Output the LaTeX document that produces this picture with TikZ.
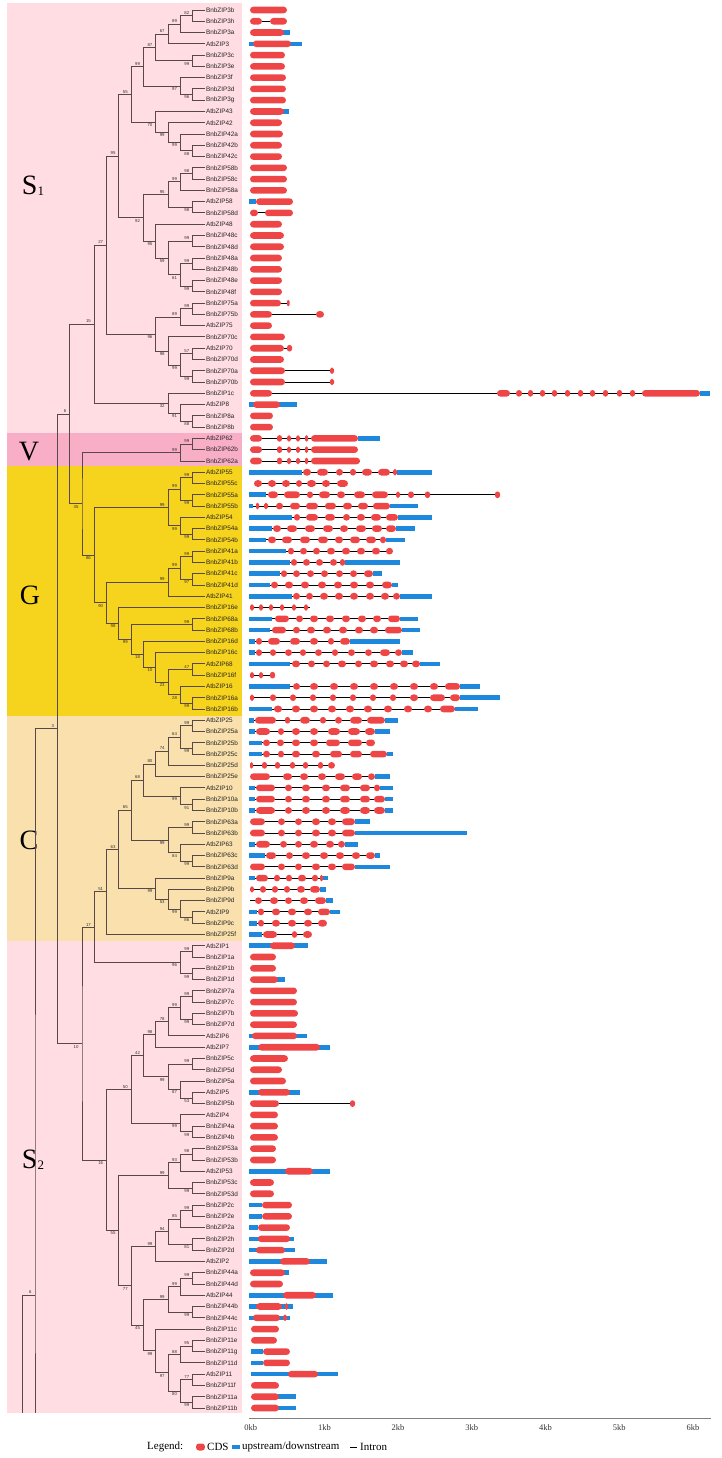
\documentclass[tikz,border=0pt]{standalone}
\usepackage{fontspec}
\setmainfont{Liberation Serif}
\setsansfont{Liberation Sans}
\usetikzlibrary{calc}
\definecolor{branch-draw}{RGB}{88,72,72}
\definecolor{cdsR}{HTML}{EE4646}
\definecolor{utrB}{HTML}{1E88DC}
\definecolor{secS}{HTML}{FFDDE2}
\definecolor{secV}{HTML}{F9AEC8}
\definecolor{secG}{HTML}{F6D31C}
\definecolor{secC}{HTML}{F9E0AC}
% half heights and corner radii of the gene pieces (c=CDS, u=UTR, i=intron)
\def\hc{3.3}\def\hu{2.3}\def\hi{0.45}
\def\rc{3.3}\def\ru{0}\def\ri{0}
% \clade{name}{height}{upper child}{lower child}{bootstrap}{bup|bdn}
\newcommand\clade[6]{%
  \path let \p1=($(#3)!.5!(#4)$) in coordinate (#1) at ({205-12.3*#2},\y1);
  \draw[branch] (#3) -| (#1) |- (#4);
  \node[boot,#6] (bs-#1) at (#1) {#5};}

\begin{document}
\begin{tikzpicture}[x=1pt,y=-1pt,
 branch/.style={branch-draw, line width=0.9pt},
 boot/.style={font=\sffamily\fontsize{4.3}{4.3}\selectfont, text=black!80, inner sep=0.3pt},
 bup/.style={anchor=south east, xshift=-3pt, yshift=0.8pt},
 bdn/.style={anchor=north east, xshift=-3pt, yshift=-0.8pt},
 leaf/.style={font=\sffamily\fontsize{6.4}{7}\selectfont, text=black!85, anchor=west, inner sep=0.8pt},
 region/.style={font=\fontsize{28}{28}\selectfont, text=black},
 segc/.style={fill=cdsR},
 segu/.style={fill=utrB},
 segi/.style={fill=black},
 axislbl/.style={font=\fontsize{8.5}{9}\selectfont, text=black!80},
 lgd/.style={font=\fontsize{11}{12}\selectfont, anchor=west, inner sep=0pt},
]
 \useasboundingbox (0,0) rectangle (722,1458);
 % subfamily bands
 \fill[secS] (7,3) rectangle (242,433);
 \fill[secV] (7,433) rectangle (242,466);
 \fill[secG] (7,466) rectangle (242,715.5);
 \fill[secC] (7,715.5) rectangle (242,940.5);
 \fill[secS] (7,940.5) rectangle (242,1412.5);
 \node[region] (reg-S1) at (33,186) {S\raisebox{-1pt}{\fontsize{13}{13}\selectfont 1}};
 \node[region] (reg-V) at (29,452) {V};
 \node[region] (reg-G) at (30,595) {G};
 \node[region] (reg-C) at (29,840) {C};
 \node[region] (reg-S2) at (33,1160) {S\raisebox{-1pt}{\fontsize{13}{13}\selectfont 2}};
 % leaves, top to bottom
 \foreach \nm [count=\i] in {BnbZIP3b,BnbZIP3h,BnbZIP3a,AtbZIP3,BnbZIP3c,BnbZIP3e,BnbZIP3f,BnbZIP3d,BnbZIP3g,
   AtbZIP43,AtbZIP42,BnbZIP42a,BnbZIP42b,BnbZIP42c,BnbZIP58b,BnbZIP58c,BnbZIP58a,AtbZIP58,BnbZIP58d,
   AtbZIP48,BnbZIP48c,BnbZIP48d,BnbZIP48a,BnbZIP48b,BnbZIP48e,BnbZIP48f,BnbZIP75a,BnbZIP75b,AtbZIP75,
   BnbZIP70c,AtbZIP70,BnbZIP70d,BnbZIP70a,BnbZIP70b,BnbZIP1c,AtbZIP8,BnbZIP8a,BnbZIP8b,
   AtbZIP62,BnbZIP62b,BnbZIP62a,
   AtbZIP55,BnbZIP55c,BnbZIP55a,BnbZIP55b,AtbZIP54,BnbZIP54a,BnbZIP54b,BnbZIP41a,BnbZIP41b,BnbZIP41c,
   BnbZIP41d,AtbZIP41,BnbZIP16e,BnbZIP68a,BnbZIP68b,BnbZIP16d,BnbZIP16c,AtbZIP68,BnbZIP16f,AtbZIP16,
   BnbZIP16a,BnbZIP16b,
   AtbZIP25,BnbZIP25a,BnbZIP25b,BnbZIP25c,BnbZIP25d,BnbZIP25e,AtbZIP10,BnbZIP10a,BnbZIP10b,BnbZIP63a,
   BnbZIP63b,AtbZIP63,BnbZIP63c,BnbZIP63d,BnbZIP9a,BnbZIP9b,BnbZIP9d,AtbZIP9,BnbZIP9c,BnbZIP25f,
   AtbZIP1,BnbZIP1a,BnbZIP1b,BnbZIP1d,BnbZIP7a,BnbZIP7c,BnbZIP7b,BnbZIP7d,AtbZIP6,AtbZIP7,BnbZIP5c,
   BnbZIP5d,BnbZIP5a,AtbZIP5,BnbZIP5b,AtbZIP4,BnbZIP4a,BnbZIP4b,BnbZIP53a,BnbZIP53b,AtbZIP53,BnbZIP53c,
   BnbZIP53d,BnbZIP2c,BnbZIP2e,BnbZIP2a,BnbZIP2h,BnbZIP2d,AtbZIP2,BnbZIP44a,BnbZIP44d,AtbZIP44,
   BnbZIP44b,BnbZIP44c,BnbZIP11c,BnbZIP11e,BnbZIP11g,BnbZIP11d,AtbZIP11,BnbZIP11f,BnbZIP11a,BnbZIP11b}{
   \coordinate (\nm) at (205,{10+11.274*(\i-1)});
   \node[leaf] (lab\i) at (\nm) {\nm};}
 % S1
 \clade{a1}{1}{BnbZIP3b}{BnbZIP3h}{82}{bup}
 \clade{a2}{2}{a1}{BnbZIP3a}{89}{bup}
 \clade{a3}{3}{a2}{AtbZIP3}{67}{bup}
 \clade{a4}{1}{BnbZIP3c}{BnbZIP3e}{99}{bdn}
 \clade{a5}{4}{a3}{a4}{87}{bup}
 \clade{a6}{1}{BnbZIP3d}{BnbZIP3g}{96}{bdn}
 \clade{a7}{2}{BnbZIP3f}{a6}{97}{bdn}
 \clade{a8}{5}{a5}{a7}{99}{bup}
 \clade{b1}{1}{BnbZIP42b}{BnbZIP42c}{88}{bdn}
 \clade{b2}{2}{BnbZIP42a}{b1}{99}{bdn}
 \clade{b3}{3}{AtbZIP42}{b2}{99}{bdn}
 \clade{b4}{4}{AtbZIP43}{b3}{70}{bdn}
 \clade{a9}{6}{a8}{b4}{55}{bup}
 \clade{c1}{1}{BnbZIP58b}{BnbZIP58c}{98}{bup}
 \clade{c2}{2}{c1}{BnbZIP58a}{99}{bup}
 \clade{c3}{1}{AtbZIP58}{BnbZIP58d}{98}{bdn}
 \clade{c4}{3}{c2}{c3}{95}{bup}
 \clade{d1}{1}{BnbZIP48c}{BnbZIP48d}{99}{bup}
 \clade{d2}{1}{BnbZIP48a}{BnbZIP48b}{99}{bup}
 \clade{d3}{1}{BnbZIP48e}{BnbZIP48f}{99}{bdn}
 \clade{d4}{2}{d2}{d3}{61}{bdn}
 \clade{d5}{3}{d1}{d4}{59}{bdn}
 \clade{d6}{4}{AtbZIP48}{d5}{95}{bdn}
 \clade{e1}{5}{c4}{d6}{92}{bdn}
 \clade{f1}{7}{a9}{e1}{95}{bup}
 \clade{g1}{1}{BnbZIP75a}{BnbZIP75b}{99}{bup}
 \clade{g2}{2}{g1}{AtbZIP75}{89}{bup}
 \clade{h1}{1}{AtbZIP70}{BnbZIP70d}{57}{bup}
 \clade{h2}{1}{BnbZIP70a}{BnbZIP70b}{99}{bdn}
 \clade{h3}{2}{h1}{h2}{99}{bdn}
 \clade{h4}{3}{BnbZIP70c}{h3}{98}{bdn}
 \clade{g3}{4}{g2}{h4}{96}{bdn}
 \clade{i1}{8}{f1}{g3}{27}{bup}
 \clade{j1}{1}{BnbZIP8a}{BnbZIP8b}{88}{bdn}
 \clade{j2}{2}{AtbZIP8}{j1}{91}{bdn}
 \clade{j3}{3}{BnbZIP1c}{j2}{32}{bdn}
 \clade{k1}{9}{i1}{j3}{15}{bup}
 % V and G
 \clade{v1}{1}{AtbZIP62}{BnbZIP62b}{99}{bup}
 \clade{v2}{2}{v1}{BnbZIP62a}{99}{bup}
 \clade{n1}{1}{AtbZIP55}{BnbZIP55c}{99}{bup}
 \clade{n2}{1}{BnbZIP55a}{BnbZIP55b}{99}{bdn}
 \clade{n3}{2}{n1}{n2}{99}{bup}
 \clade{n5}{1}{BnbZIP54a}{BnbZIP54b}{99}{bdn}
 \clade{n4}{2}{AtbZIP54}{n5}{99}{bdn}
 \clade{n6}{3}{n3}{n4}{99}{bup}
 \clade{p1}{1}{BnbZIP41a}{BnbZIP41b}{99}{bup}
 \clade{p2}{1}{BnbZIP41c}{BnbZIP41d}{97}{bdn}
 \clade{p3}{2}{p1}{p2}{99}{bup}
 \clade{p4}{3}{p3}{AtbZIP41}{99}{bup}
 \clade{q1}{1}{BnbZIP68a}{BnbZIP68b}{99}{bup}
 \clade{r1}{1}{AtbZIP68}{BnbZIP16f}{47}{bup}
 \clade{r2}{1}{BnbZIP16a}{BnbZIP16b}{99}{bdn}
 \clade{r3}{2}{AtbZIP16}{r2}{28}{bdn}
 \clade{r4}{3}{r1}{r3}{23}{bdn}
 \clade{r5}{4}{BnbZIP16c}{r4}{10}{bdn}
 \clade{r6}{5}{BnbZIP16d}{r5}{18}{bdn}
 \clade{r7}{6}{q1}{r6}{99}{bdn}
 \clade{r8}{7}{BnbZIP16e}{r7}{98}{bdn}
 \clade{s1}{8}{p4}{r8}{90}{bdn}
 \clade{s2}{9}{n6}{s1}{86}{bdn}
 \clade{vg}{10}{v2}{s2}{35}{bdn}
 \clade{top}{11}{k1}{vg}{6}{bup}
 % C
 \clade{t1}{1}{AtbZIP25}{BnbZIP25a}{99}{bup}
 \clade{t2}{1}{BnbZIP25b}{BnbZIP25c}{99}{bdn}
 \clade{t3}{2}{t1}{t2}{64}{bup}
 \clade{t4}{3}{t3}{BnbZIP25d}{74}{bup}
 \clade{t5}{4}{t4}{BnbZIP25e}{80}{bup}
 \clade{u1}{1}{BnbZIP10a}{BnbZIP10b}{91}{bdn}
 \clade{u2}{2}{AtbZIP10}{u1}{99}{bdn}
 \clade{t6}{5}{t5}{u2}{68}{bup}
 \clade{w1}{1}{BnbZIP63a}{BnbZIP63b}{99}{bup}
 \clade{w2}{1}{BnbZIP63c}{BnbZIP63d}{99}{bdn}
 \clade{w3}{2}{AtbZIP63}{w2}{84}{bdn}
 \clade{w4}{3}{w1}{w3}{99}{bdn}
 \clade{x1}{6}{t6}{w4}{65}{bup}
 \clade{y1}{1}{AtbZIP9}{BnbZIP9c}{86}{bdn}
 \clade{y2}{2}{BnbZIP9d}{y1}{99}{bdn}
 \clade{y3}{3}{BnbZIP9b}{y2}{53}{bdn}
 \clade{y4}{4}{BnbZIP9a}{y3}{99}{bdn}
 \clade{x2}{7}{x1}{y4}{63}{bup}
 \clade{cg}{8}{x2}{BnbZIP25f}{51}{bup}
 % S2
 \clade{o1}{1}{AtbZIP1}{BnbZIP1a}{99}{bup}
 \clade{o2}{1}{BnbZIP1b}{BnbZIP1d}{99}{bdn}
 \clade{o3}{2}{o1}{o2}{96}{bdn}
 \clade{cs}{9}{cg}{o3}{17}{bup}
 \clade{z1}{1}{BnbZIP7a}{BnbZIP7c}{99}{bup}
 \clade{z2}{1}{BnbZIP7b}{BnbZIP7d}{99}{bdn}
 \clade{z3}{2}{z1}{z2}{99}{bup}
 \clade{z4}{3}{z3}{AtbZIP6}{78}{bup}
 \clade{z5}{4}{z4}{AtbZIP7}{98}{bup}
 \clade{m1}{1}{BnbZIP5c}{BnbZIP5d}{99}{bup}
 \clade{m2}{1}{AtbZIP5}{BnbZIP5b}{53}{bdn}
 \clade{m3}{2}{BnbZIP5a}{m2}{87}{bdn}
 \clade{m4}{3}{m1}{m3}{99}{bdn}
 \clade{z6}{5}{z5}{m4}{42}{bup}
 \clade{f4a}{1}{BnbZIP4a}{BnbZIP4b}{99}{bdn}
 \clade{f4b}{2}{AtbZIP4}{f4a}{99}{bdn}
 \clade{z7}{6}{z6}{f4b}{50}{bup}
 \clade{k53a}{1}{BnbZIP53a}{BnbZIP53b}{98}{bup}
 \clade{k53b}{2}{k53a}{AtbZIP53}{93}{bup}
 \clade{k53c}{1}{BnbZIP53c}{BnbZIP53d}{99}{bdn}
 \clade{k53d}{3}{k53b}{k53c}{99}{bup}
 \clade{l1}{1}{BnbZIP2c}{BnbZIP2e}{99}{bup}
 \clade{l2}{2}{l1}{BnbZIP2a}{85}{bup}
 \clade{l3}{1}{BnbZIP2h}{BnbZIP2d}{81}{bdn}
 \clade{l4}{3}{l2}{l3}{94}{bup}
 \clade{l5}{4}{l4}{AtbZIP2}{99}{bup}
 \clade{e44a}{1}{BnbZIP44a}{BnbZIP44d}{99}{bup}
 \clade{e44b}{2}{e44a}{AtbZIP44}{99}{bup}
 \clade{e44c}{1}{BnbZIP44b}{BnbZIP44c}{99}{bdn}
 \clade{e44d}{3}{e44b}{e44c}{99}{bup}
 \clade{q11a}{1}{BnbZIP11e}{BnbZIP11g}{95}{bup}
 \clade{q11b}{2}{q11a}{BnbZIP11d}{88}{bup}
 \clade{q11c}{1}{AtbZIP11}{BnbZIP11f}{77}{bup}
 \clade{q11d}{1}{BnbZIP11a}{BnbZIP11b}{99}{bdn}
 \clade{q11e}{2}{q11c}{q11d}{80}{bdn}
 \clade{q11f}{3}{q11b}{q11e}{97}{bdn}
 \clade{q11g}{4}{BnbZIP11c}{q11f}{99}{bdn}
 \clade{q45}{5}{e44d}{q11g}{45}{bdn}
 \clade{q77}{6}{l5}{q45}{77}{bdn}
 \clade{q55}{7}{k53d}{q77}{55}{bdn}
 \clade{q16}{8}{z7}{q55}{16}{bdn}
 \clade{q10}{10}{cs}{q16}{10}{bdn}
 \clade{q3}{12}{top}{q10}{3}{bup}
 % stem of the rest of the tree (cut at the band edge)
 \coordinate (root) at (35,1295);
 \coordinate (root-cut) at (35,1412.5);
 \coordinate (base) at (22,1295);
 \coordinate (base-cut) at (22,1412.5);
 \draw[branch] (q3) -| (root) -- (root-cut);
 \draw[branch] (root) -- (base) -- (base-cut);
 \node[boot,bup] (bs-root) at (root) {6};
 % gene structures: row / {kind/from/to}
 \foreach \r/\segs in {1/{c/250/287},2/{i/262/270,c/250/262,c/270/287},3/{u/283/290,c/250/284},
   4/{u/249/302,c/253/291},5/{c/250/285},6/{c/250/285},7/{c/250/286},8/{c/250/286},9/{c/250/286},
   10/{u/282/289,c/250/284},11/{c/250/282},12/{c/250/283},13/{c/250/282},14/{c/250/282},
   15/{c/250/287},16/{c/250/287},17/{c/250/287},18/{u/249/256,c/256/293},
   19/{i/258/266,c/250/258,c/265/293},20/{c/250/282},21/{c/250/284},22/{c/250/284},23/{c/250/282},
   24/{c/250/282},25/{c/250/282},26/{c/250/282},27/{i/280/289,c/250/281,c/287/289.5},
   28/{i/272/317,c/250/272,c/316/324},29/{c/250/272},30/{c/250/285},31/{i/284/288,c/250/284,c/287/292},
   32/{c/250/284},33/{i/285/333,c/250/285,c/330/334},34/{i/285/333,c/250/285,c/330/334},
   35/{i/272/700,u/700/710,c/250/272,c/497/510,c/516/522,c/528/533,c/540/545,c/552/557,c/565/570,c/578/583,c/590/595,c/603/608,c/617/622,c/630/635,c/642/700},
   36/{u/249/297,c/253/280},37/{c/250/273},38/{c/250/273},
   39/{i/262/360,u/358/380,c/250/262,c/277/282,c/287/291,c/296/300,c/305/308,c/311/358},
   40/{i/262/358,c/250/262,c/277/282,c/287/291,c/296/300,c/305/308,c/311/358},
   41/{i/262/360,c/250/262,c/277/282,c/287/291,c/296/300,c/305/308,c/311/360},
   42/{i/249/432,u/249/302,u/397/432,c/303/311,c/317/328,c/336/343,c/350/356,c/362/372,c/378/390,c/393/397},
   43/{i/254/348,c/254/262,c/268/276,c/282/290,c/296/302,c/307/316,c/322/330,c/337/348},
   44/{i/249/500,u/249/266,c/268/278,c/284/300,c/307/313,c/319/330,c/337/345,c/354/365,c/372/388,c/396/400,c/408/414,c/425/430,c/495/500},
   45/{i/249/418,u/249/253,u/390/418,c/256/259,c/264/268,c/276/283,c/290/300,c/306/318,c/325/336,c/343/352,c/358/368,c/373/390},
   46/{i/249/432,u/249/292,u/398/432,c/294/300,c/306/318,c/325/335,c/343/350,c/357/365,c/371/381,c/386/398},
   47/{i/249/415,u/249/272,u/396/415,c/273/281,c/287/297,c/305/315,c/323/333,c/340/348,c/356/366,c/372/382,c/386/396},
   48/{i/249/405,u/249/266,u/386/405,c/268/276,c/282/292,c/300/310,c/318/328,c/335/343,c/350/360,c/366/376,c/380/386},
   49/{i/249/393,u/249/286,c/288/294,c/300/307,c/313/320,c/327/335,c/342/350,c/357/365,c/372/380,c/386/393},
   50/{i/249/400,u/249/290,u/345/400,c/291/297,c/303/310,c/316/323,c/330/337,c/340/345},
   51/{i/249/382,u/249/280,u/373/382,c/281/287,c/293/300,c/307/314,c/321/328,c/336/343,c/350/357,c/364/373},
   52/{i/249/398,u/249/270,u/392/398,c/271/278,c/285/293,c/301/309,c/318/326,c/334/342,c/350/358,c/366/374,c/382/392},
   53/{i/249/432,u/249/292,u/400/432,c/293/300,c/306/313,c/320/328,c/335/343,c/350/358,c/366/374,c/381/389,c/393/400},
   54/{i/250/310,c/250/254,c/259/263,c/269/273,c/280/284,c/292/296,c/304/308},
   55/{i/249/418,u/249/272,u/400/418,c/275/289,c/296/303,c/310/318,c/326/334,c/342/350,c/358/366,c/373/381,c/388/400},
   56/{i/249/420,u/249/270,u/402/420,c/272/286,c/293/300,c/307/315,c/323/331,c/339/347,c/355/363,c/370/378,c/385/402},
   57/{i/249/400,u/249/255,u/350/400,c/256/262,c/268/280,c/290/300,c/310/318,c/328/334,c/340/350},
   58/{i/249/413,u/249/255,u/402/413,c/256/262,c/270/276,c/285/292,c/300/306,c/315/322,c/332/338,c/348/355,c/365/372,c/380/390,c/395/402},
   59/{i/249/440,u/249/290,u/420/440,c/292/300,c/308/315,c/323/330,c/338/346,c/355/362,c/370/378,c/386/394,c/400/408,c/412/420},
   60/{i/250/275,c/250/254,c/259/263,c/270/275},
   61/{i/249/480,u/249/290,u/460/480,c/293/300,c/310/318,c/330/338,c/350/358,c/370/378,c/390/398,c/410/418,c/430/438,c/445/460},
   62/{i/250/500,u/460/500,c/250/254,c/270/276,c/290/296,c/310/316,c/330/336,c/350/356,c/370/376,c/390/396,c/410/418,c/430/445,c/450/460},
   63/{i/249/478,u/249/272,u/455/478,c/274/282,c/292/300,c/310/318,c/328/336,c/346/354,c/364/372,c/384/392,c/404/412,c/424/432,c/440/455},
   64/{i/249/398,u/249/254,u/385/398,c/255/276,c/285/290,c/300/310,c/320/326,c/335/342,c/350/362,c/367/385},
   65/{i/249/390,u/249/255,u/375/390,c/256/270,c/278/284,c/292/300,c/310/318,c/328/340,c/348/360,c/365/375},
   66/{i/249/375,u/249/262,c/263/270,c/277/284,c/292/300,c/310/318,c/326/340,c/348/362,c/366/375},
   67/{i/249/393,u/249/262,u/387/393,c/263/270,c/278/284,c/292/300,c/312/320,c/330/342,c/350/362,c/370/387},
   68/{i/250/335,c/250/253,c/262/267,c/275/280,c/290/295,c/303/308,c/318/323,c/328/335},
   69/{i/250/390,u/375/390,c/250/270,c/283/292,c/300/308,c/318/326,c/335/345,c/352/362,c/368/375},
   70/{i/249/393,u/249/255,u/380/393,c/256/275,c/285/292,c/302/310,c/322/330,c/340/350,c/360/370,c/374/380},
   71/{i/249/393,u/249/255,u/385/393,c/256/275,c/285/292,c/302/310,c/322/330,c/340/350,c/360/370,c/374/385},
   72/{i/249/393,u/249/255,u/385/393,c/256/275,c/285/292,c/302/310,c/322/330,c/340/350,c/360/370,c/374/385},
   73/{i/250/370,u/355/370,c/250/265,c/278/285,c/295/302,c/312/320,c/328/336,c/342/355},
   74/{i/250/467,u/355/467,c/250/265,c/278/285,c/295/302,c/312/320,c/328/336,c/342/355},
   75/{i/249/358,u/249/255,u/345/358,c/256/270,c/280/287,c/295/302,c/310/318,c/326/334,c/338/345},
   76/{i/249/380,u/249/265,u/375/380,c/266/276,c/286/293,c/302/310,c/320/328,c/336/344,c/352/360,c/366/375},
   77/{i/250/390,u/355/390,c/250/265,c/278/285,c/295/302,c/312/320,c/328/336,c/342/355},
   78/{i/249/328,u/249/255,u/323/328,c/256/268,c/274/280,c/286/292,c/298/306,c/312/318,c/320/323},
   79/{i/250/326,u/320/326,c/250/254,c/260/266,c/272/278,c/284/290,c/297/305,c/310/320},
   80/{i/250/333,u/326/333,c/255/262,c/270/278,c/285/292,c/300/308,c/315/326},
   81/{i/249/340,u/249/257,u/330/340,c/258/264,c/272/280,c/288/296,c/304/312,c/318/330},
   82/{i/249/327,u/249/257,c/258/264,c/272/280,c/288/296,c/304/312,c/318/327},
   83/{i/249/312,u/249/262,c/263/277,c/292/297,c/303/312},
   84/{u/249/308,c/270/295},85/{c/250/276},86/{c/250/276},87/{u/276/285,c/250/278},
   88/{c/250/297},89/{c/250/297},90/{c/250/298},91/{c/250/297},92/{u/249/307,c/252/297},
   93/{u/249/330,c/258/320},94/{c/250/288},95/{c/250/282},96/{c/250/286},97/{u/249/300,c/258/290},
   98/{i/278/352,c/250/279,c/350/355},99/{c/250/278},100/{c/250/278},101/{c/250/278},
   102/{c/250/276},103/{c/250/276},104/{u/249/330,c/285/313},105/{c/250/274},106/{c/250/274},
   107/{u/249/262,c/262/292},108/{u/249/262,c/262/292},109/{u/249/258,c/258/290},
   110/{u/249/294,c/258/290},111/{u/249/295,c/256/285},112/{u/249/327,c/280/310},
   113/{u/283/289,c/250/285},114/{c/250/283},115/{u/249/333,c/283/316},
   116/{i/282/286,u/249/293,c/256/282,c/285/288},117/{i/280/284,u/249/290,c/253/280,c/283/287},
   118/{c/251/279},119/{c/251/277},120/{u/251/263,c/263/290},121/{u/251/263,c/263/290},
   122/{u/251/338,c/288/318},123/{c/251/279},124/{u/278/296,c/251/279},125/{u/278/296,c/251/279}}{
   \pgfmathsetmacro\ry{10+11.274*(\r-1)}
   \foreach \kind/\xa/\xb in \segs {
     \pgfmathsetmacro\hh{\csname h\kind\endcsname}
     \pgfmathsetmacro\rr{min(\csname r\kind\endcsname,(\xb-\xa)/2.05)}
     \path[seg\kind, rounded corners=\rr pt] (\xa,{\ry-\hh}) rectangle (\xb,{\ry+\hh});}}
 % scale
 \coordinate (ax0) at (249,1418.5);
 \coordinate (ax1) at (711,1418.5);
 \draw[gray, line width=0.8pt] (ax0) -- (ax1);
 \foreach \k in {0,...,6}
   \node[axislbl] (kb\k) at ({250.7+73.7*\k},1428) {\k kb};
 % legend
 \node[lgd] (lgd-title) at (147,1447) {Legend:};
 \fill[cdsR, rounded corners=3pt] (196,1443.5) rectangle (205,1450.5);
 \node[lgd] (lgd-cds) at (207,1447) {CDS};
 \fill[utrB] (232,1444.8) rectangle (240,1449.2);
 \node[lgd] (lgd-utr) at (242,1447) {upstream/downstream};
 \draw[black, line width=0.9pt] (350,1447) -- (357,1447);
 \node[lgd] (lgd-int) at (360,1447) {Intron};
\end{tikzpicture}
\end{document}
